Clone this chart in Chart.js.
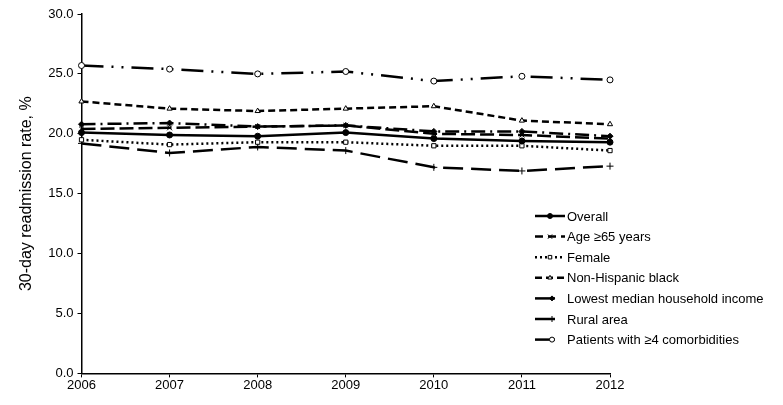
<!DOCTYPE html>
<html>
<head>
<meta charset="utf-8">
<script src="https://cdn.jsdelivr.net/npm/chart.js@4"></script>
<style>
  html, body { margin: 0; padding: 0; background: #fff; }
  #wrap { width: 783px; height: 405px; }
</style>
</head>
<body>
<div id="wrap"><canvas id="readmit"></canvas></div>
<script>
var years = ["2006", "2007", "2008", "2009", "2010", "2011", "2012"];
var yTicks = [0, 5, 10, 15, 20, 25, 30];

var overall = [20.1, 19.9, 19.8, 20.1, 19.6, 19.4, 19.3];
var age65 = [20.4, 20.5, 20.6, 20.7, 20.0, 19.9, 19.6];
var female = [19.5, 19.1, 19.3, 19.3, 19.0, 19.0, 18.6];
var nonHispBlack = [22.7, 22.1, 21.9, 22.1, 22.3, 21.1, 20.8];
var lowIncome = [20.8, 20.9, 20.6, 20.7, 20.2, 20.2, 19.8];
var rural = [19.2, 18.4, 18.9, 18.6, 17.2, 16.9, 17.3];
var comorb4 = [25.7, 25.4, 25.0, 25.2, 24.4, 24.8, 24.5];

var ink = '#000';
var font = "'Liberation Sans', Arial, sans-serif";

function series(label, values, dash, point, fill, sampleLen) {
    return {
        label: label,
        data: values,
        borderColor: ink,
        borderWidth: 2.5,
        borderDash: dash,
        pointStyle: point,
        pointRadius: point === 'cross' || point === 'crossRot' ? 3.5 : 3,
        pointBorderWidth: 1,
        pointBorderColor: ink,
        pointBackgroundColor: fill ? ink : '#fff',
        tension: 0,
        fill: false,
        sampleLen: sampleLen
    };
}

var datasets = [
    series("Overall", overall, [], 'circle', true, 30),
    series("Age \u226565 years", age65, [14, 5], 'crossRot', false, 30),
    series("Female", female, [2, 3], 'rect', false, 30),
    series("Non-Hispanic black", nonHispBlack, [7, 4], 'triangle', false, 30),
    series("Lowest median household income", lowIncome, [14, 5, 2, 5], 'rectRot', true, 20),
    series("Rural area", rural, [20, 8], 'cross', false, 20),
    series("Patients with \u22654 comorbidities", comorb4, [22, 8, 2, 8, 2, 8], 'circle', false, 20)
];

// legend drawn inside the plot, lower right, like the original
var sideLegend = {
    id: 'sideLegend',
    afterDraw: function(chart) {
        var ctx = chart.ctx;
        var x0 = 535, y0 = 216, rowH = 20.6;
        ctx.save();
        chart.data.datasets.forEach(function(ds, i) {
            var y = y0 + i * rowH;
            ctx.strokeStyle = ink;
            ctx.lineWidth = 2.5;
            ctx.setLineDash(ds.sampleLen === 30 ? ds.borderDash.map(function(v) { return Math.min(v, 8); }) : []);
            ctx.beginPath();
            ctx.moveTo(x0, y);
            ctx.lineTo(x0 + ds.sampleLen, y);
            ctx.stroke();
            ctx.setLineDash([]);
            var px = ds.sampleLen === 30 ? x0 + 15 : x0 + 17;
            ctx.fillStyle = ds.pointBackgroundColor;
            ctx.strokeStyle = ink;
            ctx.lineWidth = 1;
            Chart.helpers.drawPoint(ctx, {
                pointStyle: ds.pointStyle,
                radius: ds.pointRadius - 0.5,
                borderWidth: 1
            }, px, y);
            ctx.fillStyle = ink;
            ctx.font = "13px " + font;
            ctx.textBaseline = 'middle';
            ctx.fillText(ds.label, 567, y + 1);
        });
        ctx.restore();
    }
};

new Chart(document.getElementById('readmit').getContext('2d'), {
    type: 'line',
    data: { labels: years, datasets: datasets },
    plugins: [sideLegend],
    options: {
        responsive: true,
        maintainAspectRatio: false,
        animation: false,
        layout: { padding: { left: 13, right: 173, top: 14, bottom: 12 } },
        plugins: {
            legend: { display: false },
            tooltip: { enabled: false }
        },
        scales: {
            x: {
                offset: false,
                grid: { drawOnChartArea: false, color: ink, tickLength: 4 },
                border: { color: ink, width: 1.5 },
                ticks: { color: ink, font: { family: font, size: 13 }, maxRotation: 0, padding: 0 }
            },
            y: {
                min: 0,
                max: 30,
                afterBuildTicks: function(axis) {
                    axis.ticks = yTicks.map(function(v) { return { value: v }; });
                },
                grid: { drawOnChartArea: false, color: ink, tickLength: 4 },
                border: { color: ink, width: 1.5 },
                ticks: {
                    color: ink,
                    font: { family: font, size: 13 },
                    padding: 4,
                    callback: function(v) { return Number(v).toFixed(1); }
                },
                title: {
                    display: true,
                    text: "30-day readmission rate, %",
                    color: ink,
                    font: { family: font, size: 16 },
                    padding: { bottom: 8 }
                }
            }
        }
    }
});
</script>
</body>
</html>
